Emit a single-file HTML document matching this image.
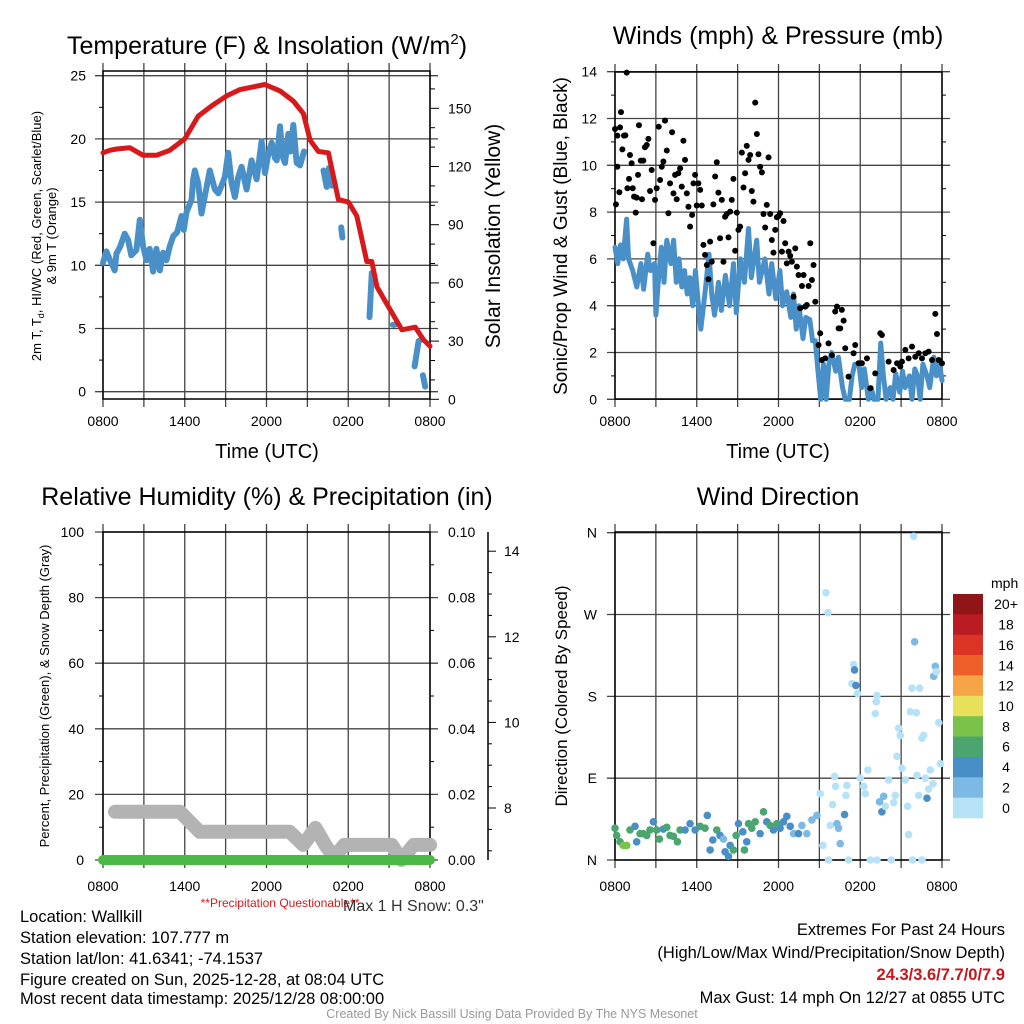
<!DOCTYPE html>
<html><head><meta charset="utf-8"><title>Wallkill Meteogram</title>
<style>
html,body{margin:0;padding:0;background:#fff;}
svg{display:block;font-family:"Liberation Sans",Arial,sans-serif;}
</style></head>
<body>
<svg id="fig" width="1024" height="1024" viewBox="0 0 1024 1024" xmlns="http://www.w3.org/2000/svg">
<rect x="0" y="0" width="1024" height="1024" fill="#fff"/>
<!-- titles -->
<text x="267" y="54" font-size="25" text-anchor="middle">Temperature (F) &amp; Insolation (W/m<tspan font-size="15" dy="-10">2</tspan><tspan dy="10">)</tspan></text>
<text x="778" y="44" font-size="25" text-anchor="middle">Winds (mph) &amp; Pressure (mb)</text>
<text x="267" y="505" font-size="25" text-anchor="middle">Relative Humidity (%) &amp; Precipitation (in)</text>
<text x="778" y="505" font-size="25" text-anchor="middle">Wind Direction</text>
<!-- axis titles -->
<text x="267" y="458" font-size="20" text-anchor="middle">Time (UTC)</text>
<text x="778" y="458" font-size="20" text-anchor="middle">Time (UTC)</text>
<text transform="translate(41,236) rotate(-90)" font-size="13" text-anchor="middle">2m T, T<tspan font-size="9" dy="3">d</tspan><tspan dy="-3">, HI/WC (Red, Green, Scarlet/Blue)</tspan></text>
<text transform="translate(56,236) rotate(-90)" font-size="13" text-anchor="middle">&amp; 9m T (Orange)</text>
<text transform="translate(500,236) rotate(-90)" font-size="21" text-anchor="middle">Solar Insolation (Yellow)</text>
<text transform="translate(567,236) rotate(-90)" font-size="19" text-anchor="middle">Sonic/Prop Wind &amp; Gust (Blue, Black)</text>
<text transform="translate(49,696) rotate(-90)" font-size="13" text-anchor="middle">Percent, Precipitation (Green), &amp; Snow Depth (Gray)</text>
<text transform="translate(567,696) rotate(-90)" font-size="17" text-anchor="middle">Direction (Colored By Speed)</text>
<!-- footer -->
<text x="280" y="907" font-size="12" fill="#d7191c" text-anchor="middle">**Precipitation Questionable**</text>
<text x="343" y="911" font-size="16" fill="#333">Max 1 H Snow: 0.3"</text>
<g font-size="16.5" fill="#000">
<text x="20" y="922">Location: Wallkill</text>
<text x="20" y="943">Station elevation: 107.777 m</text>
<text x="20" y="964">Station lat/lon: 41.6341; -74.1537</text>
<text x="20" y="985">Figure created on Sun, 2025-12-28, at 08:04 UTC</text>
<text x="20" y="1004">Most recent data timestamp: 2025/12/28 08:00:00</text>
</g>
<g font-size="16.5" text-anchor="end">
<text x="1005" y="935">Extremes For Past 24 Hours</text>
<text x="1005" y="958">(High/Low/Max Wind/Precipitation/Snow Depth)</text>
<text x="1005" y="980" fill="#c8161d" font-weight="bold">24.3/3.6/7.7/0/7.9</text>
<text x="1005" y="1003">Max Gust: 14 mph On 12/27 at 0855 UTC</text>
</g>
<text x="512" y="1018" font-size="12.5" fill="#999" text-anchor="middle">Created By Nick Bassill Using Data Provided By The NYS Mesonet</text>
<g id="p1"></g>
<g id="p2"></g>
<g id="p3"></g>
<g id="p4"></g>
</svg>
<script>
// ---------- data ----------
const timeLabels = ["0800","1400","2000","0200","0800"];
const tempHours = [0,0.5,1.0,1.96,2.94,3.92,4.9,6.0,6.99,8.09,9.07,10.05,11.88,12.99,13.97,14.71,15.2,15.81,16.54,17.28,18.01,18.63,19.36,19.73,20.1,20.96,21.94,22.92,23.53,24];
const tempVals = [18.9,19.1,19.2,19.3,18.7,18.7,19.1,20.0,21.8,22.7,23.4,23.9,24.3,23.8,23.0,22.0,19.9,19.0,18.9,15.2,15.0,13.9,10.3,10.3,8.3,6.7,4.9,5.1,4.1,3.6];
const dewHours = [0,0.25,0.56,0.86,0.98,1.27,1.59,1.84,2.08,2.45,2.7,2.94,3.19,3.43,3.68,3.92,4.17,4.41,4.66,4.9,5.15,5.44,5.76,5.93,6.13,6.5,6.62,6.74,6.99,7.23,7.48,7.84,8.21,8.46,8.7,8.95,9.19,9.44,9.68,9.93,10.17,10.54,10.91,11.27,11.64,11.89,12.13,12.38,12.62,12.75,12.99,13.19,13.36,13.6,13.77,13.97,14.22,14.46,14.75,null,16.18,16.42,16.59,16.79,null,17.48,17.57,null,19.56,19.73,null,21.27,21.42,null,22.87,23.16,23.33,null,23.48,23.65];
const dewVals = [10.2,11.1,10.3,9.6,10.9,11.5,12.5,12.0,10.8,11.2,13.6,11.5,10.4,11.3,9.5,11.3,9.6,11.0,10.4,11.5,12.3,12.6,13.9,12.8,14.2,15.2,16.8,17.5,16.5,14.1,15.5,17.5,16.0,15.7,16.3,17.0,18.9,16.5,15.4,17.0,17.8,16.0,18.3,16.8,19.8,17.3,18.8,19.7,18.5,18.3,21.0,18.6,18.1,20.4,19.0,21.1,18.1,17.9,19.0,null,17.5,16.2,17.7,16.3,null,13.0,12.2,null,5.9,9.4,null,5.3,5.3,null,2.0,4.0,4.1,null,1.3,0.4];
const leftTicks1 = [0,5,10,15,20,25];
const rightTicks1 = [0,30,60,90,120,150];

const windHours = [0,0.2,0.4,0.6,0.85,1.0,1.3,1.6,1.9,2.1,2.4,2.6,2.9,3.0,3.2,3.4,3.6,3.8,4.1,4.3,4.5,4.7,4.9,5.1,5.3,5.5,5.7,5.9,6.1,6.3,6.6,6.9,7.1,7.3,7.6,7.8,8.1,8.4,8.7,8.9,9.2,9.5,9.8,10.0,10.4,10.6,11.0,11.3,11.5,11.8,12.1,12.3,12.6,12.9,13.1,13.3,13.5,13.8,14.0,14.3,14.5,14.7,14.9,15.1,15.3,15.5,15.7,15.9,16.2,16.4,16.7,16.9,17.2,17.4,17.6,17.9,18.1,18.3,18.6,18.8,19.0,19.3,19.5,19.7,19.9,20.2,20.4,20.6,20.9,21.1,21.3,21.6,21.8,22.0,22.2,22.4,22.6,22.9,23.1,23.4,23.6,23.8,24];
const windVals = [6.5,5.8,6.6,6.0,7.7,6.0,5.5,4.8,5.8,4.7,6.2,5.5,5.8,3.6,5.2,6.5,5.0,6.8,5.8,6.8,5.0,6.0,4.8,5.5,4.5,5.2,4.0,5.5,4.2,3.0,4.5,6.2,4.5,3.6,5.0,3.8,5.3,4.0,5.8,3.7,6.0,5.0,7.3,5.2,6.8,5.0,6.0,4.5,5.8,4.3,5.5,4.0,4.6,3.5,4.5,3.0,4.0,2.6,3.5,3.4,2.5,2.5,1.2,0,1.5,0,1.5,2.0,1.2,1.8,0.5,0,0,1.0,1.5,1.5,0.5,1.3,0,0.5,0,0,2.4,1.0,0,0.5,0,1.1,0.3,1.2,0.5,1.0,0,1.3,1.0,0,1.5,1.0,0.5,1.8,1.0,1.6,0.8];
const gustHours = [0,0.07,0.17,0.17,0.32,0.37,0.44,0.54,0.66,0.76,0.86,0.91,1.03,1.1,1.22,1.3,1.4,1.52,1.59,1.69,1.76,1.89,1.98,2.08,2.2,2.33,2.45,2.57,2.69,2.82,2.94,3.06,3.21,3.31,3.43,3.55,3.67,3.8,3.92,4.04,4.19,4.29,4.41,4.53,4.65,4.78,4.9,5.02,5.14,5.27,5.39,5.51,5.66,5.76,5.88,6.0,6.12,6.25,6.37,6.49,6.61,6.74,6.86,6.98,7.1,7.22,7.35,7.47,7.59,7.71,7.84,7.96,8.08,8.2,8.33,8.45,8.57,8.69,8.82,8.94,9.06,9.18,9.31,9.43,9.55,9.67,9.8,9.92,10.04,10.16,10.29,10.41,10.53,10.65,10.78,10.9,11.02,11.14,11.27,11.39,11.51,11.63,11.76,11.88,12.0,12.12,12.25,12.37,12.49,12.61,12.74,12.86,12.98,13.1,13.23,13.35,13.47,13.59,13.72,13.84,13.96,14.08,14.21,14.33,14.45,14.57,14.7,14.94,15.06,15.18,15.43,15.67,15.92,16.16,16.29,16.41,16.53,16.65,16.78,16.9,17.14,17.51,17.63,17.88,18.12,18.49,18.74,19.1,19.47,19.59,20.08,20.45,20.7,20.94,21.06,21.31,21.55,21.8,22.04,22.29,22.53,22.78,23.02,23.27,23.51,23.63,23.76,24.0];
const gustVals = [11.55,8.33,11.27,9.94,8.85,11.62,12.27,10.68,11.27,11.28,13.96,9.02,9.42,10.44,10.09,9.02,8.66,7.98,8.62,9.59,11.71,10.2,8.55,10.2,10.77,10.87,11.13,8.9,9.8,6.67,8.52,9.02,11.65,9.37,9.94,10.16,11.91,10.63,7.95,9.23,11.41,8.8,9.59,8.55,9.66,9.87,9.09,11.05,10.23,8.8,8.23,7.38,7.88,9.23,9.59,8.28,9.23,8.95,8.28,6.6,6.17,5.74,5.13,6.74,5.88,8.33,9.52,10.13,8.83,6.88,8.52,5.88,7.8,7.92,6.92,8.02,8.52,9.42,6.35,7.98,7.24,7.38,10.54,9.05,9.66,10.83,10.23,10.44,8.9,8.45,12.68,11.34,10.47,9.94,9.7,7.92,7.34,8.31,10.34,7.92,6.81,6.27,7.24,7.78,7.83,7.95,6.31,7.62,6.67,5.81,6.31,6.13,5.88,4.39,6.45,5.67,5.31,3.89,4.84,5.31,3.96,4.03,4.84,6.67,5.1,5.74,4.17,2.32,2.82,1.68,1.75,2.39,1.89,3.75,3.96,3.03,3.03,3.82,3.36,2.18,0.97,1.97,2.32,1.54,1.54,1.75,0.47,1.11,2.82,2.75,1.61,1.25,1.54,1.4,1.61,2.11,1.75,2.25,1.82,1.97,1.75,1.97,2.04,1.68,3.65,2.79,1.68,1.54];
const windTicks = [0,2,4,6,8,10,12,14];

const rhTicks = [0,20,40,60,80,100];
const precipTicks = ["0.00","0.02","0.04","0.06","0.08","0.10"];
const snowTicks = [8,10,12,14];
const snowHours = [0.88,5.65,7.1,13.7,14.7,15.6,16.4,17.0,17.7,21.2,21.9,22.8,24];
const snowVals = [14.7,14.7,8.6,8.6,4.6,9.8,4.0,1.0,4.6,4.6,0.0,4.6,4.6];
const precipHours = [0,24];
const precipVals = [0,0];

const dirTicks = [0,90,180,270,360];
const dirLabels = ["N","E","S","W","N"];
const dirHours = [0,0.12,0.37,0.61,0.86,1.1,1.47,1.59,1.84,2.08,2.33,2.57,2.82,3.06,3.26,3.55,3.8,4.04,4.29,4.58,4.78,5.14,5.51,5.88,6.25,6.61,6.78,6.98,7.18,7.47,7.71,7.96,8.08,8.33,8.45,8.69,8.89,9.06,9.38,9.5,9.67,9.8,10.04,10.29,10.65,10.9,11.14,11.39,11.63,11.88,12.12,12.37,12.61,12.86,13.1,13.47,13.72,14.08,14.45,14.82,15.06,15.26,15.48,15.63,15.8,15.97,16.12,16.19,16.29,16.41,16.53,16.85,16.95,17.02,17.14,15.67,17.39,17.51,17.58,17.68,17.8,18.0,18.25,18.37,18.56,18.74,19.1,19.18,19.23,19.42,19.59,19.72,19.84,20.08,20.28,20.45,20.57,20.7,20.82,20.94,21.06,21.31,21.48,21.55,21.67,21.8,21.92,21.99,22.12,22.16,22.29,22.36,22.53,22.53,22.66,22.78,22.9,23.02,23.14,23.34,23.39,23.51,23.58,23.76,23.88,21.84,19.23];
const dirVals = [35,27,20,16,16,33,37,20,29,29,27,33,42,33,23,34,36,27,26,20,33,33,40,33,37,35,49,11,22,33,27,23,9,4,16,11,27,40,31,11,20,40,35,42,29,53,42,38,33,40,35,42,48,37,29,29,38,29,44,49,73,16,294,272,38,61,92,81,40,35,18,50,71,82,0,0,194,215,209,192,183,90,81,73,99,0,161,174,181,64,53,70,59,88,0,63,71,114,145,137,101,88,59,28,163,189,356,240,162,93,71,189,0,134,137,90,68,78,99,84,202,213,207,151,106,0,0];
const dirSpeeds = [7,7,7,8.5,8.5,7,5,5,7,7,7,7,5,7,7,5,7,7,7,7,7,5,5,5,7,7,5,5,5,7,5,3,5,5,5,7,7,5,5,7,5,7,7,7,5,7,5,7,5,7,5,5,5,5,3,5,3,3,3,3,1,1,1,1,1,1,1,1,3,3,3,5,1,1,1,1,1,1,5,5,1,1,1,1,1,1,1,1,1,3,5,3,1,1,1,1,1,1,1,1,1,1,1,1,1,1,1,3,1,1,1,1,1,1,1,1,5,1,1,1,3,3,1,1,1,1,1,1];
const cbarLabels = ["20+","18","16","14","12","10","8","6","4","2","0"];
const cbarColors = ["#8f1518","#b91c22","#dc3326","#ef5f2a","#f5a545","#e6e05a","#7ac24a","#4aa56e","#4a8ec8","#7cb9e4","#b6e2f8"];

// ---------- helpers ----------
const NS = "http://www.w3.org/2000/svg";
function mk(parent, tag, attrs) {
  const el = document.createElementNS(NS, tag);
  for (const k in attrs) el.setAttribute(k, attrs[k]);
  parent.appendChild(el);
  return el;
}
const GRID = "#444";
function pathFrom(hs, vs, xf, yf) {
  let d = "", pen = false;
  for (let i = 0; i < hs.length; i++) {
    if (hs[i] === null || vs[i] === null) { pen = false; continue; }
    d += (pen ? "L" : "M") + xf(hs[i]).toFixed(1) + "," + yf(vs[i]).toFixed(1);
    pen = true;
  }
  return d;
}
function timeAxis(g, xf, y0, y1, labelY, prefix) {
  for (let h = 0; h <= 24; h += 3) {
    const ln = mk(g, "line", {x1: xf(h), x2: xf(h), y1: y0 - 8, y2: y1 + 8, stroke: GRID, "stroke-width": 1.3});
    
    
  }
  timeLabels.forEach((t, i) => {
    const tx = mk(g, "text", {x: xf(i * 6), y: labelY, "font-size": 14, "text-anchor": "middle"});
    tx.textContent = t;
    
    
  });
}

// ---------- panel 1 ----------
(function () {
  const g = document.getElementById("p1");
  const x = h => 103 + h * 327 / 24;
  const yL = v => 391.7 - v * 12.64;
  const yR = v => 399.3 - v * 1.94;
  timeAxis(g, x, 71, 399, 426, "temperature");
  leftTicks1.forEach(v => {
    const ln = mk(g, "line", {x1: 95, x2: 438, y1: yL(v), y2: yL(v), stroke: GRID, "stroke-width": 1.3});
    
    
    const tx = mk(g, "text", {x: 86, y: yL(v) + 5, "font-size": 14, "text-anchor": "end"});
    tx.textContent = v;
    
    
  });
  for (let v = 2.5; v < 25; v += 5) {
    const t = mk(g, "line", {x1: 99, x2: 103, y1: yL(v), y2: yL(v), stroke: "#000"});
    
    
  }
  for (let v = 0; v <= 160; v += 10) {
    const t = mk(g, "line", {x1: 430, x2: v % 30 === 0 ? 439 : 435, y1: yR(v), y2: yR(v), stroke: "#000"});
    
    
  }
  rightTicks1.forEach(v => {
    const tx = mk(g, "text", {x: 448, y: yR(v) + 5, "font-size": 14});
    tx.textContent = v;
    
    
  });
  const box = mk(g, "rect", {x: 103, y: 71, width: 327, height: 328, fill: "none", stroke: "#000", "stroke-width": 1.5});
  
  
  const dew = mk(g, "path", {d: pathFrom(dewHours, dewVals, x, yL), fill: "none", stroke: "#4a90c8", "stroke-width": 6, "stroke-linecap": "round", "stroke-linejoin": "round"});
  
  
  const tmp = mk(g, "path", {d: pathFrom(tempHours, tempVals, x, yL), fill: "none", stroke: "#d7191c", "stroke-width": 5, "stroke-linecap": "round", "stroke-linejoin": "round"});
  
  
})();

// ---------- panel 2 ----------
(function () {
  const g = document.getElementById("p2");
  const x = h => 615 + h * 327 / 24;
  const y = v => 399.3 - v * 23.4;
  timeAxis(g, x, 72, 399, 426, "wind");
  windTicks.forEach(v => {
    const ln = mk(g, "line", {x1: 607, x2: 950, y1: y(v), y2: y(v), stroke: GRID, "stroke-width": 1.3});
    
    
    const tx = mk(g, "text", {x: 597, y: y(v) + 5, "font-size": 14, "text-anchor": "end"});
    tx.textContent = v;
    
    
  });
  for (let v = 1; v < 14; v += 2) {
    const t = mk(g, "line", {x1: 611, x2: 615, y1: y(v), y2: y(v), stroke: "#000"});
    
    
    const t2 = mk(g, "line", {x1: 942, x2: 946, y1: y(v), y2: y(v), stroke: "#000"});
    
    
  }
  const box = mk(g, "rect", {x: 615, y: 72, width: 327, height: 327, fill: "none", stroke: "#000", "stroke-width": 1.5});
  
  
  const wl = mk(g, "path", {d: pathFrom(windHours, windVals, x, y), fill: "none", stroke: "#4a90c8", "stroke-width": 5, "stroke-linecap": "round", "stroke-linejoin": "round"});
  
  
  gustHours.forEach((h, i) => {
    const c = mk(g, "circle", {cx: x(h), cy: y(gustVals[i]), r: 3, fill: "#000"});
    
    
  });
})();

// ---------- panel 3 ----------
(function () {
  const g = document.getElementById("p3");
  const x = h => 103 + h * 327 / 24;
  const y = v => 860 - v * 3.28;
  const yS = v => 808 - (v - 8) * 42.8;
  timeAxis(g, x, 532, 860, 891, "humidity");
  rhTicks.forEach((v, i) => {
    const ln = mk(g, "line", {x1: 95, x2: 438, y1: y(v), y2: y(v), stroke: GRID, "stroke-width": 1.3});
    
    
    const tx = mk(g, "text", {x: 84, y: y(v) + 5, "font-size": 14, "text-anchor": "end"});
    tx.textContent = v;
    
    
    const tp = mk(g, "text", {x: 448, y: y(v) + 5, "font-size": 14});
    tp.textContent = precipTicks[i];
    
    
  });
  for (let v = 10; v < 100; v += 20) {
    const t = mk(g, "line", {x1: 99, x2: 103, y1: y(v), y2: y(v), stroke: "#000"});
    
    
    const t2 = mk(g, "line", {x1: 430, x2: 434, y1: y(v), y2: y(v), stroke: "#000"});
    
    
  }
  const sa = mk(g, "line", {x1: 488, x2: 488, y1: 532, y2: 860, stroke: "#000", "stroke-width": 1.5});
  
  
  for (let v = 6; v <= 15; v += 0.5) {
    const yy = yS(v);
    if (yy < 532 || yy > 860) continue;
    const major = Number.isInteger(v) && v % 2 === 0;
    const t = mk(g, "line", {x1: 488, x2: major ? 496 : 492, y1: yy, y2: yy, stroke: "#000"});
    
    
  }
  snowTicks.forEach(v => {
    const tx = mk(g, "text", {x: 504, y: yS(v) + 5, "font-size": 14});
    tx.textContent = v;
    
    
  });
  const box = mk(g, "rect", {x: 103, y: 532, width: 327, height: 328, fill: "none", stroke: "#000", "stroke-width": 1.5});
  
  
  const sn = mk(g, "path", {d: pathFrom(snowHours, snowVals, x, y), fill: "none", stroke: "#b3b3b3", "stroke-width": 14, "stroke-linecap": "round", "stroke-linejoin": "round"});
  
  
  const pr = mk(g, "path", {d: pathFrom(precipHours, precipVals, x, y), fill: "none", stroke: "#4cb848", "stroke-width": 10, "stroke-linecap": "round"});
  
  
})();

// ---------- panel 4 ----------
(function () {
  const g = document.getElementById("p4");
  const x = h => 615 + h * 327 / 24;
  const y = d => 860 - d * 327.3 / 360;
  timeAxis(g, x, 532, 860, 891, "direction");
  dirTicks.forEach((d, i) => {
    const ln = mk(g, "line", {x1: 607, x2: 950, y1: y(d), y2: y(d), stroke: GRID, "stroke-width": 1.3});
    
    
    const tx = mk(g, "text", {x: 597, y: y(d) + 5, "font-size": 14, "text-anchor": "end"});
    tx.textContent = dirLabels[i];
    
    
  });
  const box = mk(g, "rect", {x: 615, y: 532, width: 327, height: 328, fill: "none", stroke: "#000", "stroke-width": 1.5});
  
  
  dirHours.forEach((h, i) => {
    const sp = dirSpeeds[i] === undefined ? 1 : dirSpeeds[i];
    const bin = Math.min(10, Math.floor(sp / 2));
    const c = mk(g, "circle", {cx: x(h), cy: y(dirVals[i]), r: 3.8, fill: cbarColors[10 - bin]});
    
    
  });
  const ut = mk(g, "text", {x: 991, y: 588, "font-size": 14});
  ut.textContent = "mph";
  
  
  const bh = 224 / cbarColors.length;
  cbarColors.forEach((col, i) => {
    const r = mk(g, "rect", {x: 953, y: 594 + i * bh, width: 30, height: bh + 0.3, fill: col});
    
    
    const tx = mk(g, "text", {x: 1006, y: 594 + i * bh + bh / 2 + 5, "font-size": 14, "text-anchor": "middle"});
    tx.textContent = cbarLabels[i];
    
    
  });
})();
</script>
</body></html>
